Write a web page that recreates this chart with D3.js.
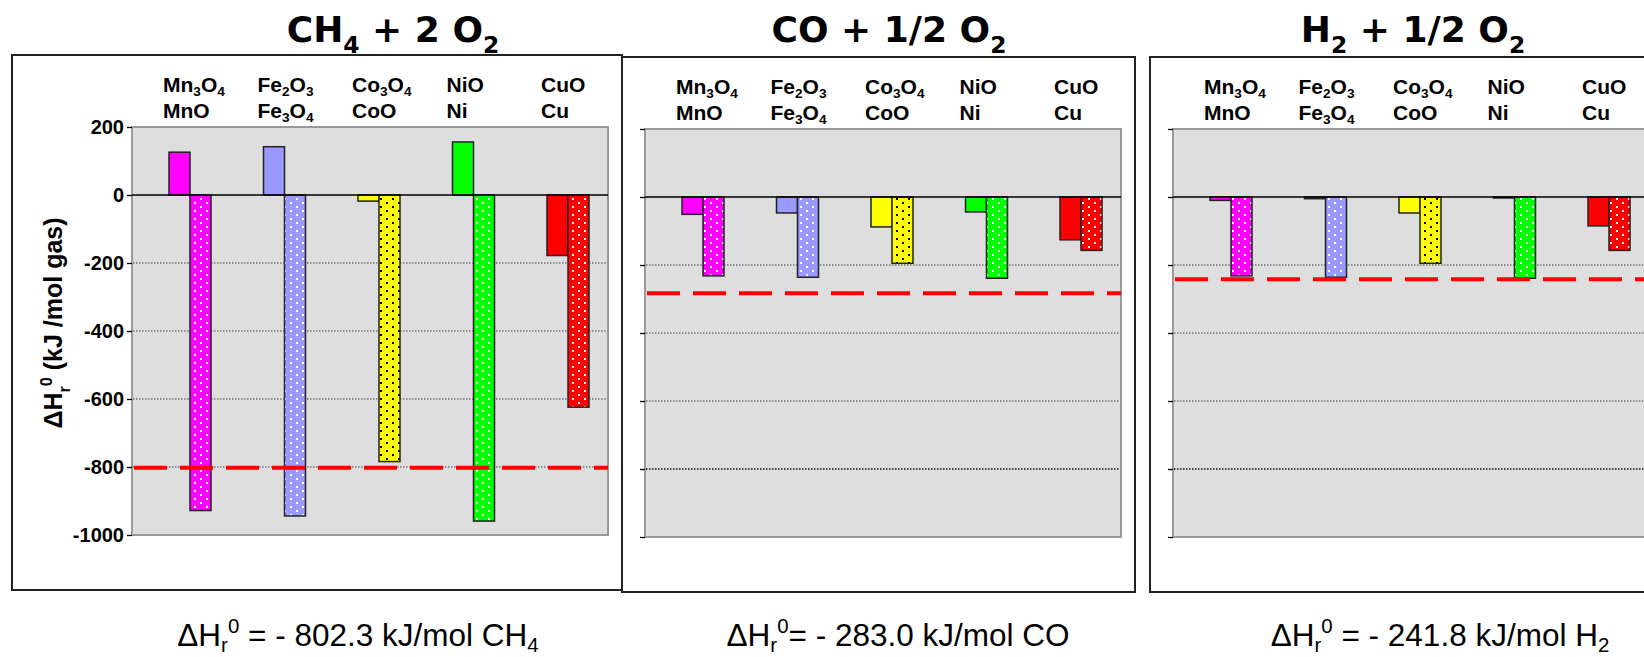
<!DOCTYPE html>
<html>
<head>
<meta charset="utf-8">
<script src="https://cdn.jsdelivr.net/npm/d3@7/dist/d3.min.js"></script>
<style>
  body { margin: 0; background: #fff; }
  text { font-family: 'Liberation Sans', Arial, sans-serif; }
</style>
</head>
<body>
<script>
// metal oxide / reduced form pairs
var pairs = ['Mn', 'Fe', 'Co', 'Ni', 'Cu']
var oxidizedForms = ['Mn_3O_4', 'Fe_2O_3', 'Co_3O_4', 'NiO', 'CuO']
var reducedForms = ['MnO', 'Fe_3O_4', 'CoO', 'Ni', 'Cu']

// fuels and heat of combustion (kJ/mol gas)
var reactions = ['CH_4 + 2 O_2', 'CO + 1/2 O_2', 'H_2 + 1/2 O_2']
var fuels = ['CH_4', 'CO', 'H_2']
var combustionDH = [-802.3, -283.0, -241.8]

// reduction of the oxide by the fuel (plain bars)
var reductionCH4 = [126, 142, -18, 156, -178]
var reductionCO = [-51, -47, -88, -44, -126]
var reductionH2 = [-10, -5, -47, -3, -85]
// re-oxidation of the reduced form with air (dotted bars)
var oxidationCH4 = [-928, -944, -784, -959, -624]
var oxidationCO = [-232, -236, -195, -239, -157]
var oxidationH2 = [-232, -236, -195, -239, -157]

var yTicks = [200, 0, -200, -400, -600, -800, -1000]
var gridValues = [-200, -400, -600, -800]

var barColors = ['#ff00ff', '#9999ff', '#ffff00', '#00ff00', '#ff0000']
var dotColors = ['#ffffff', '#ffffff', '#000000', '#ffffff', '#ffffff']

var reductionSets = [reductionCH4, reductionCO, reductionH2]
var oxidationSets = [oxidationCH4, oxidationCO, oxidationH2]

// layout of the three panels
var plotW = 476
var plotH = 408
var barW = 21
var panels = [
  { box: [12, 55, 610, 535], plot: [132, 127], titleX: 393, noteX: 358, axisLabels: true },
  { box: [622, 57, 513, 535], plot: [645, 129], titleX: 889, noteX: 898, axisLabels: false },
  { box: [1150, 57, 560, 535], plot: [1173, 129], titleX: 1413, noteX: 1440, axisLabels: false }
]

var svg = d3.select('body').append('svg')
  .attr('width', 1644)
  .attr('height', 657)

// write text with _x subscripts and ^x superscripts
function richText (sel, str, fs, subShift) {
  var segs = []
  for (var i = 0; i < str.length; i++) {
    var c = str[i]
    if ((c === '_' || c === '^') && i + 1 < str.length) {
      segs.push({ t: str[i + 1], m: c })
      i++
    } else if (segs.length && segs[segs.length - 1].m === '') {
      segs[segs.length - 1].t += c
    } else {
      segs.push({ t: c, m: '' })
    }
  }
  var off = 0
  var down = subShift || 0.3
  segs.forEach(function (s) {
    var target = s.m === '_' ? fs * down : (s.m === '^' ? -fs * 0.42 : 0)
    sel.append('tspan')
      .attr('dy', target - off)
      .attr('font-size', s.m ? fs * 0.65 : fs)
      .text(s.t)
    off = target
  })
  return sel
}

// dotted fill patterns for the oxidation bars
var defs = svg.append('defs')
barColors.forEach(function (col, i) {
  var p = defs.append('pattern')
    .attr('id', 'dots' + i)
    .attr('patternUnits', 'userSpaceOnUse')
    .attr('width', 12)
    .attr('height', 8)
  p.append('rect').attr('width', 12).attr('height', 8).attr('fill', col)
  p.append('rect').attr('x', 2).attr('y', 2).attr('width', 2).attr('height', 2).attr('fill', dotColors[i])
  p.append('rect').attr('x', 8).attr('y', 6).attr('width', 2).attr('height', 2).attr('fill', dotColors[i])
})

panels.forEach(function (pn, k) {
  var g = svg.append('g')
  var px = pn.plot[0]
  var py = pn.plot[1]

  // outer frame
  g.append('rect')
    .attr('x', pn.box[0]).attr('y', pn.box[1])
    .attr('width', pn.box[2]).attr('height', pn.box[3])
    .attr('fill', '#fff')
    .attr('stroke', '#222')
    .attr('stroke-width', 2)

  var y = d3.scaleLinear().domain([-1000, 200]).range([py + plotH, py])
  var x = d3.scalePoint().domain(pairs).range([px + 58, px + 436])

  // plot background
  g.append('rect')
    .attr('x', px).attr('y', py)
    .attr('width', plotW).attr('height', plotH)
    .attr('fill', '#dedede')
    .attr('stroke', '#9a9a9a')
    .attr('stroke-width', 2)

  // dotted grid
  g.selectAll('line.grid').data(gridValues).enter().append('line')
    .attr('class', 'grid')
    .attr('x1', px + 1).attr('x2', px + plotW - 1)
    .attr('y1', function (d) { return y(d) })
    .attr('y2', function (d) { return y(d) })
    .attr('stroke', function (d) { return (d === -800 && k > 0) ? '#111' : '#777' })
    .attr('stroke-width', 1.3)
    .attr('stroke-dasharray', '1.5,1.5')

  // y axis ticks
  var axis = d3.axisLeft(y).tickValues(yTicks).tickSize(5).tickPadding(3)
  if (pn.axisLabels) {
    axis.tickFormat(function (d) { return String(d) })
  } else {
    axis.tickFormat('')
  }
  var ax = g.append('g').attr('transform', 'translate(' + px + ',0)').call(axis)
  ax.select('.domain').remove()
  ax.selectAll('.tick line').attr('stroke', '#000').attr('stroke-width', 1.3)
  ax.selectAll('.tick text')
    .attr('font-family', "'Liberation Sans', Arial, sans-serif")
    .attr('font-size', 20)
    .attr('font-weight', 'bold')
    .attr('fill', '#000')

  // reduction bars
  var red = reductionSets[k]
  var oxi = oxidationSets[k]
  g.selectAll('rect.red').data(red).enter().append('rect')
    .attr('class', 'red')
    .attr('x', function (d, i) { return x(pairs[i]) - barW })
    .attr('y', function (d) { return d >= 0 ? y(d) : y(0) })
    .attr('width', barW)
    .attr('height', function (d) { return Math.abs(y(d) - y(0)) })
    .attr('fill', function (d, i) { return barColors[i] })
    .attr('stroke', '#222')
    .attr('stroke-width', 1.5)

  // oxidation bars
  g.selectAll('rect.oxi').data(oxi).enter().append('rect')
    .attr('class', 'oxi')
    .attr('x', function (d, i) { return x(pairs[i]) })
    .attr('y', function (d) { return d >= 0 ? y(d) : y(0) })
    .attr('width', barW)
    .attr('height', function (d) { return Math.abs(y(d) - y(0)) })
    .attr('fill', function (d, i) { return 'url(#dots' + i + ')' })
    .attr('stroke', '#222')
    .attr('stroke-width', 1.5)

  // zero line
  g.append('line')
    .attr('x1', px).attr('x2', px + plotW)
    .attr('y1', y(0)).attr('y2', y(0))
    .attr('stroke', '#000')
    .attr('stroke-width', 1.5)

  // combustion enthalpy reference
  g.append('line')
    .attr('x1', px + 2).attr('x2', px + plotW)
    .attr('y1', y(combustionDH[k])).attr('y2', y(combustionDH[k]))
    .attr('stroke', '#ff0000')
    .attr('stroke-width', 4)
    .attr('stroke-dasharray', '33,13')

  // pair labels above the plot
  pairs.forEach(function (p, i) {
    richText(g.append('text')
      .attr('x', x(p) - 27).attr('y', py - 35)
      .attr('font-weight', 'bold'), oxidizedForms[i], 21, 0.2)
    richText(g.append('text')
      .attr('x', x(p) - 27).attr('y', py - 9)
      .attr('font-weight', 'bold'), reducedForms[i], 21, 0.2)
  })

  // title
  richText(svg.append('text')
    .attr('x', pn.titleX).attr('y', 42)
    .attr('text-anchor', 'middle')
    .style('font-family', "'DejaVu Sans', Verdana, sans-serif")
    .attr('font-weight', 'bold'), reactions[k], 36)

  // note below
  var dh = combustionDH[k]
  var note = 'ΔH_r^0' + (k === 1 ? '= ' : ' = ') + '- ' + Math.abs(dh).toFixed(1) + ' kJ/mol ' + fuels[k]
  richText(svg.append('text')
    .attr('x', pn.noteX).attr('y', 646)
    .attr('text-anchor', 'middle'), note, 31.5, 0.2)
})

// y axis title
richText(svg.append('text')
  .attr('transform', 'translate(62,323) rotate(-90)')
  .attr('text-anchor', 'middle')
  .attr('font-weight', 'bold'), 'ΔH_r^0 (kJ /mol gas)', 25)
</script>
</body>
</html>
